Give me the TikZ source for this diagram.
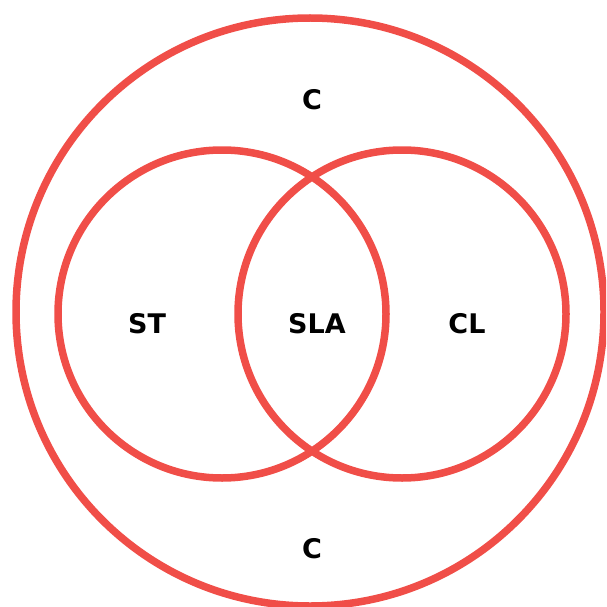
\documentclass[tikz,border=0pt]{standalone}
\usepackage{fontspec}
\setmainfont{DejaVu Sans}
\definecolor{vred}{RGB}{240,78,72}
\begin{document}
\begin{tikzpicture}[x=1pt,y=-1pt,
  ring/.style={draw=vred,line width=7.5pt},
  lbl/.style={font=\bfseries\fontsize{27}{27}\selectfont,text=black,inner sep=0pt,anchor=base}]
\useasboundingbox (0,0) rectangle (606,607);
\begin{scope}
\clip (0,0) rectangle (606,607);
\draw[ring] (310,312) circle [radius=294];
\draw[ring] (222,314) circle [radius=164];
\draw[ring] (402,314) circle [radius=164];
\end{scope}
\node[lbl] (ctop) at (312,110) {C};
\node[lbl] (st) at (147,333) {ST};
\node[lbl] (sla) at (317,333) {SLA};
\node[lbl] (cl) at (467,333) {CL};
\node[lbl] (cbot) at (312,558) {C};
\end{tikzpicture}
\end{document}
